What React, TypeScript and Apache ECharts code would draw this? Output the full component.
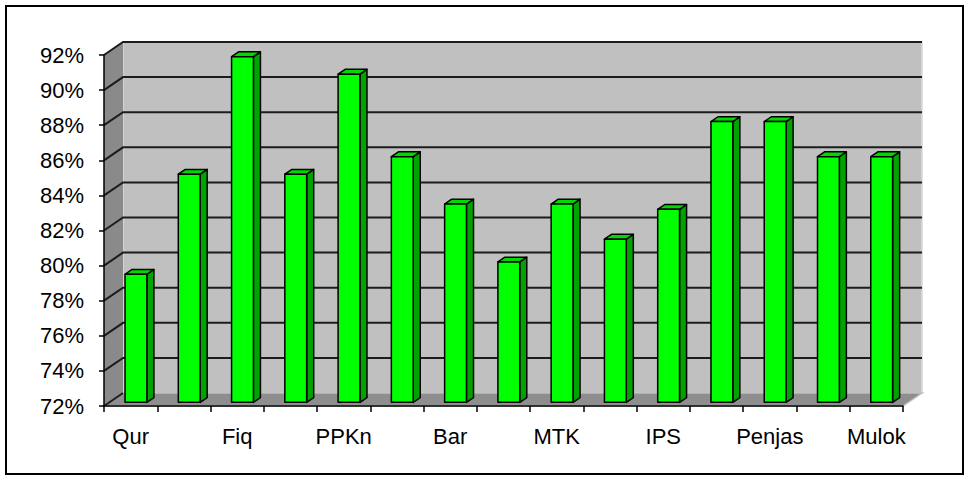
import React, { useEffect, useRef } from "react";
import * as echarts from "echarts";

// Subject scores (percent)
const categories = [
  "Qur", "Aqi", "Fiq", "SKI", "PPKn", "BI", "Bar", "Big",
  "MTK", "IPA", "IPS", "SBK", "Penjas", "TIK", "Mulok",
];
const scores = [79.3, 85, 91.7, 85, 90.7, 86, 83.3, 80, 83.3, 81.3, 83, 88, 88, 86, 86];
const yTicks = [72, 74, 76, 78, 80, 82, 84, 86, 88, 90, 92];

// oblique depth of the 3D box, in pixels
const DX = 19;
const DY = -13;
// bar placement inside the depth
const BAR_FRONT = 0.28;
const BAR_DEPTH = 0.37;

const FONT = "'Liberation Sans', Arial, sans-serif";

export default function App() {
  const ref = useRef<HTMLDivElement>(null);

  useEffect(() => {
    document.body.style.margin = "0";
    if (!ref.current) return;
    const chart = echarts.init(ref.current, undefined, { renderer: "svg" });

    const renderWalls = (params: any, api: any) => {
      const cs = params.coordSys;
      const left = cs.x;
      const right = cs.x + cs.width;
      const top = cs.y;
      const bottom = cs.y + cs.height;
      const children: any[] = [];
      // back wall
      children.push({
        type: "rect",
        shape: { x: left + DX, y: top + DY, width: cs.width, height: cs.height },
        style: { fill: "#c0c0c0", stroke: "#d9d9d9", lineWidth: 1.5 },
      });
      // left side wall
      children.push({
        type: "polygon",
        shape: { points: [[left, top], [left + DX, top + DY], [left + DX, bottom + DY], [left, bottom]] },
        style: { fill: "#8a8a8a" },
      });
      // floor
      children.push({
        type: "polygon",
        shape: { points: [[left, bottom], [left + DX, bottom + DY], [right + DX, bottom + DY], [right, bottom]] },
        style: { fill: "#8e8e8e", stroke: "#bdbdbd", lineWidth: 1.5 },
      });
      // gridlines along the side wall and the back wall
      yTicks.forEach((t, k) => {
        const y = api.coord([0, t])[1];
        const pts =
          k === 0
            ? [[left, y], [left + DX, y + DY]]
            : [[left, y], [left + DX, y + DY], [right + DX, y + DY]];
        children.push({
          type: "polyline",
          shape: { points: pts },
          style: { stroke: "#1c1c1c", lineWidth: 2, fill: null },
        });
      });
      return { type: "group", children };
    };

    const renderBar = (params: any, api: any) => {
      const i = api.value(0);
      const v = api.value(1);
      const [cx, yv] = api.coord([i, v]);
      const yb = api.coord([i, yTicks[0]])[1];
      const band = api.size([1, 0])[0];
      const w = band * 0.41;
      const x0 = cx + DX * BAR_FRONT - w / 2;
      const x1 = x0 + w;
      const yt = yv + DY * BAR_FRONT;
      const ybot = yb + DY * BAR_FRONT;
      const sx = DX * BAR_DEPTH;
      const sy = DY * BAR_DEPTH;
      const stroke = { stroke: "#000", lineWidth: 1.5, lineJoin: "round" };
      return {
        type: "group",
        children: [
          {
            type: "polygon",
            shape: { points: [[x1, yt], [x1 + sx, yt + sy], [x1 + sx, ybot + sy], [x1, ybot]] },
            style: { fill: "#00a400", ...stroke },
          },
          {
            type: "polygon",
            shape: { points: [[x0, yt], [x0 + sx, yt + sy], [x1 + sx, yt + sy], [x1, yt]] },
            style: { fill: "#00d800", ...stroke },
          },
          {
            type: "rect",
            shape: { x: x0, y: yt, width: w, height: ybot - yt },
            style: { fill: "#00ff00", ...stroke },
          },
        ],
      };
    };

    chart.setOption({
      animation: false,
      backgroundColor: "#ffffff",
      graphic: [
        {
          type: "rect",
          shape: { x: 6, y: 6, width: 957, height: 468 },
          style: { fill: "none", stroke: "#000", lineWidth: 2 },
          z: 100,
        },
      ],
      grid: { left: 104, right: 66, top: 55, bottom: 74, containLabel: false },
      xAxis: {
        type: "category",
        data: categories,
        z: 10,
        axisLine: { show: true, lineStyle: { color: "#000", width: 1.5 } },
        axisTick: { show: true, interval: 0, length: 6, lineStyle: { color: "#000", width: 1.5 } },
        axisLabel: { interval: 1, color: "#000", fontSize: 22, fontFamily: FONT, margin: 19 },
        splitLine: { show: false },
      },
      yAxis: {
        type: "value",
        min: 72,
        max: 92,
        interval: 2,
        z: 10,
        axisLine: { show: true, lineStyle: { color: "#000", width: 1.5 } },
        axisTick: { show: true, length: 5, lineStyle: { color: "#000", width: 1.5 } },
        axisLabel: { formatter: "{value}%", color: "#000", fontSize: 22, fontFamily: FONT, margin: 20 },
        splitLine: { show: false },
      },
      series: [
        {
          type: "custom",
          name: "walls",
          data: [[0, yTicks[0]]],
          encode: { x: 0, y: 1 },
          renderItem: renderWalls,
          clip: false,
          silent: true,
          z: 1,
        },
        {
          type: "custom",
          name: "Nilai",
          data: scores.map((v, i) => [i, v]),
          encode: { x: 0, y: 1 },
          renderItem: renderBar,
          clip: false,
          z: 3,
        },
      ],
    });

    return () => chart.dispose();
  }, []);

  return <div ref={ref} style={{ width: 969, height: 480 }} />;
}
